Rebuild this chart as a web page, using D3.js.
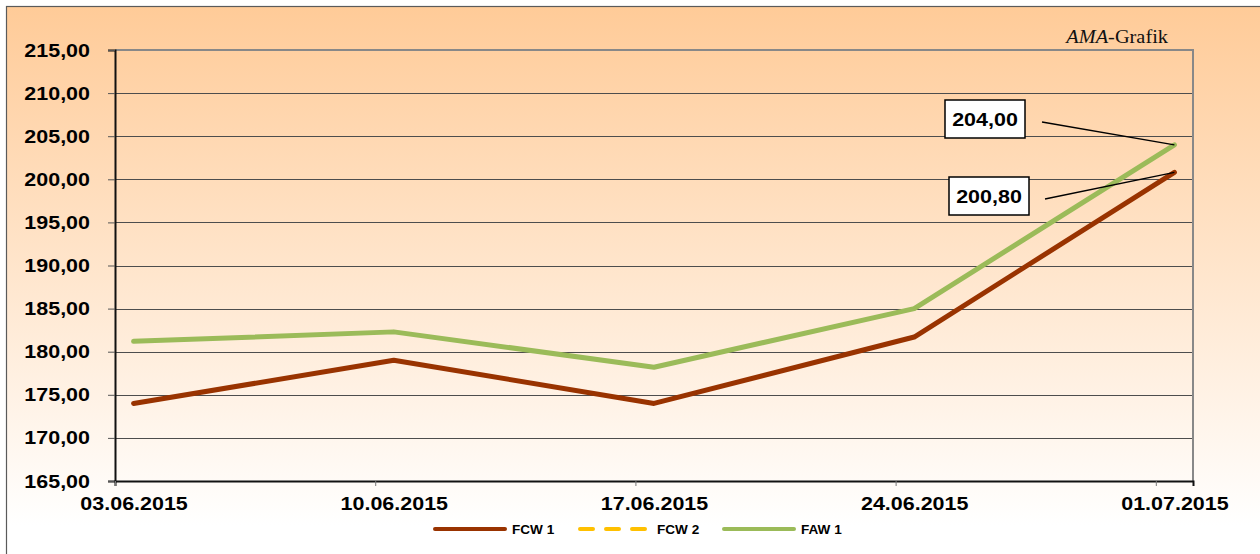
<!DOCTYPE html>
<html>
<head>
<meta charset="utf-8">
<script src="https://cdn.jsdelivr.net/npm/d3@7"></script>
<style>
  body { margin: 0; background: #fff; }
  svg { display: block; }
  text { font-family: "Liberation Sans", Arial, sans-serif; }
</style>
</head>
<body>
<svg width="1260" height="554"></svg>
<script>
const width = 1260, height = 554;
const svg = d3.select("svg");

// data
const dates = ["03.06.2015", "10.06.2015", "17.06.2015", "24.06.2015", "01.07.2015"];
const fcw1 = [174.0, 179.0, 174.0, 181.7, 200.8];
const fcw2 = [];
const faw1 = [181.2, 182.3, 178.2, 185.0, 204.0];
const yTicks = [165, 170, 175, 180, 185, 190, 195, 200, 205, 210, 215];
const seriesNames = ["FCW 1", "FCW 2", "FAW 1"];
const seriesColors = ["#993300", "#FFC000", "#9BBB59"];

const parse = d3.timeParse("%d.%m.%Y");
const fmtDate = d3.timeFormat("%d.%m.%Y");
const de = d3.formatLocale({ decimal: ",", thousands: ".", grouping: [3], currency: ["", " €"] });
const fmtVal = de.format(".2f");

const days = dates.map(parse);
const plot = { left: 115, top: 50, right: 1193, bottom: 481 };

// date axis, one slot per day, points in the middle of the day
const x = d3.scaleTime()
  .domain([days[0], d3.timeDay.offset(days[days.length - 1], 1)])
  .range([plot.left, plot.right]);
const half = (x(d3.timeDay.offset(days[0], 1)) - x(days[0])) / 2;
const px = d => x(d) + half;

const y = d3.scaleLinear().domain([165, 215]).range([plot.bottom, plot.top]);

// background gradient
const defs = svg.append("defs");
const grad = defs.append("linearGradient").attr("id", "bg")
  .attr("x1", 0).attr("y1", 0).attr("x2", 0).attr("y2", 1);
grad.append("stop").attr("offset", "0%").attr("stop-color", "#FFCB98");
grad.append("stop").attr("offset", "92%").attr("stop-color", "#FFFFFF");
grad.append("stop").attr("offset", "100%").attr("stop-color", "#FFFFFF");

svg.append("rect")
  .attr("x", 6.5).attr("y", 6.5)
  .attr("width", width + 10).attr("height", height + 10)
  .attr("fill", "url(#bg)")
  .attr("stroke", "#5a5a5a").attr("stroke-width", 1.2);

// gridlines
svg.append("g")
  .selectAll("line")
  .data(yTicks.filter(v => v > 165 && v < 215))
  .join("line")
  .attr("x1", plot.left).attr("x2", plot.right)
  .attr("y1", d => Math.round(y(d)) + 0.5).attr("y2", d => Math.round(y(d)) + 0.5)
  .attr("stroke", "#4d4d4d").attr("stroke-width", 1);

// top and right frame
svg.append("path")
  .attr("d", `M${plot.left},${plot.top}H${plot.right}V${plot.bottom}`)
  .attr("fill", "none").attr("stroke", "#888").attr("stroke-width", 2);

// y axis
const yAxis = svg.append("g")
  .attr("transform", `translate(${plot.left},0)`)
  .call(d3.axisLeft(y).tickValues(yTicks).tickFormat(fmtVal).tickSize(7).tickPadding(18));
yAxis.select(".domain").attr("stroke", "#111").attr("stroke-width", 2);
yAxis.selectAll(".tick line").attr("stroke", "#555");
yAxis.selectAll(".tick text")
  .attr("class", "stretch")
  .style("font-size", "19px").style("font-weight", "bold").attr("fill", "#000");

// x axis: ticks at day start, labels centered on the day
const xAxis = svg.append("g")
  .attr("transform", `translate(0,${plot.bottom})`)
  .call(d3.axisBottom(x).tickValues(days).tickFormat(fmtDate).tickSize(5).tickPadding(10));
xAxis.select(".domain").attr("stroke", "#111").attr("stroke-width", 2);
xAxis.selectAll(".tick line").attr("stroke", "#777");
xAxis.selectAll(".tick text")
  .attr("class", "stretch")
  .attr("x", half).attr("dy", "0.75em")
  .style("font-size", "19px").style("font-weight", "bold").attr("fill", "#000");

// lines
const line = d3.line().x((d, i) => px(days[i])).y(d => y(d));
[fcw1, fcw2, faw1].forEach((s, k) => {
  if (!s.length) return;
  svg.append("path")
    .datum(s)
    .attr("d", line)
    .attr("fill", "none")
    .attr("stroke", seriesColors[k])
    .attr("stroke-width", 5)
    .attr("stroke-linejoin", "round")
    .attr("stroke-linecap", "round");
});

// value labels on last point
const last = days.length - 1;
const notes = [
  { v: faw1[last], bx: 945, by: 100, lx: 1042, ly: 122 },
  { v: fcw1[last], bx: 949, by: 177, lx: 1045, ly: 199 }
];
notes.forEach(n => {
  svg.append("line")
    .attr("x1", n.lx).attr("y1", n.ly)
    .attr("x2", px(days[last])).attr("y2", y(n.v))
    .attr("stroke", "#000").attr("stroke-width", 1.3);
  svg.append("rect")
    .attr("x", n.bx).attr("y", n.by).attr("width", 80).attr("height", 38)
    .attr("fill", "#fff").attr("stroke", "#000").attr("stroke-width", 1.5);
  svg.append("text")
    .attr("class", "stretch")
    .attr("x", n.bx + 40).attr("y", n.by + 26)
    .attr("text-anchor", "middle")
    .style("font-size", "19px").style("font-weight", "bold")
    .text(fmtVal(n.v));
});

// source tag
const tag = svg.append("text")
  .attr("class", "stretch")
  .attr("x", 1168).attr("y", 43)
  .attr("text-anchor", "end")
  .style("font-family", "'Liberation Serif', 'Times New Roman', serif")
  .style("font-size", "18px")
  .attr("fill", "#111");
tag.append("tspan").style("font-style", "italic").text("AMA");
tag.append("tspan").text("-Grafik");

// legend
const legendX = [435, 580, 724];
const legend = svg.append("g").attr("transform", "translate(0,529)");
seriesNames.forEach((name, k) => {
  legend.append("line")
    .attr("x1", legendX[k]).attr("x2", legendX[k] + 70)
    .attr("stroke", seriesColors[k]).attr("stroke-width", 4)
    .attr("stroke-linecap", "round")
    .attr("stroke-dasharray", k === 1 ? "13,13" : null);
  legend.append("text")
    .attr("class", "stretch")
    .attr("x", legendX[k] + 77).attr("y", 4.5)
    .style("font-size", "12px").style("font-weight", "bold")
    .text(name);
});

// the picture is a little wider than tall: widen the text to match
svg.selectAll("text.stretch").each(function () {
  const t = d3.select(this);
  t.attr("textLength", this.getComputedTextLength() * 1.13)
   .attr("lengthAdjust", "spacingAndGlyphs");
});
</script>
</body>
</html>
